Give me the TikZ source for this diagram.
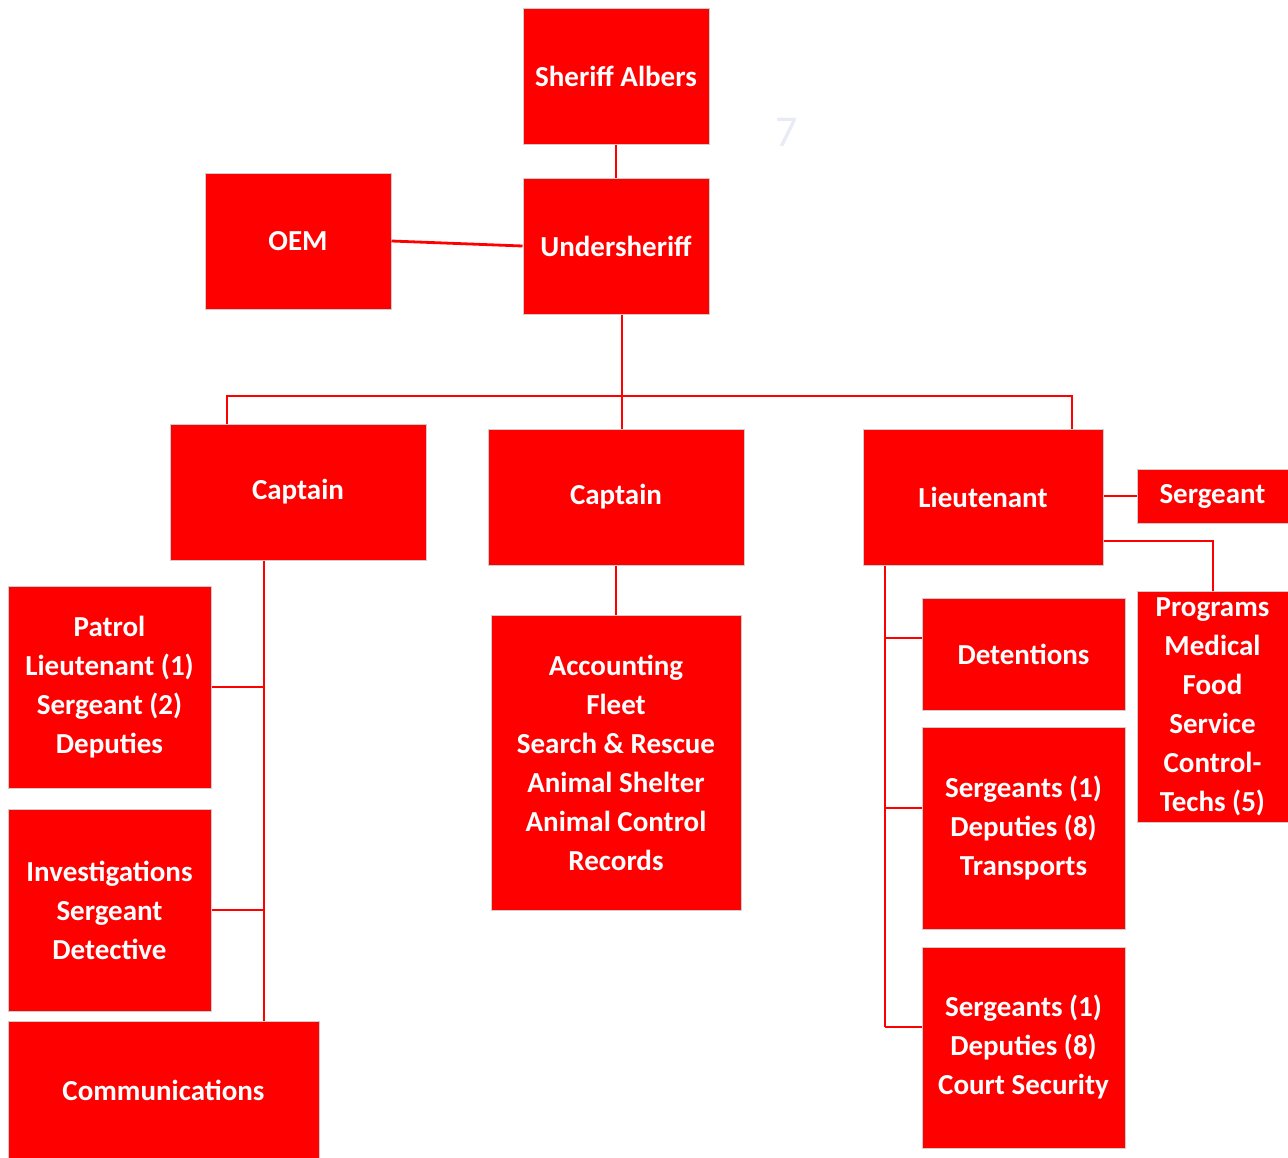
\documentclass[tikz,border=0pt]{standalone}
\usepackage{fontspec}
\setmainfont{Carlito}
\usetikzlibrary{calc}
\definecolor{boxred}{RGB}{255,0,0}
\definecolor{edgegrey}{RGB}{205,205,205}
\definecolor{faint}{RGB}{232,234,244}
\begin{document}
\begin{tikzpicture}[x=1pt,y=-1pt,
  box/.style={draw=edgegrey, line width=1pt, fill=boxred, text=white,
    font=\fontsize{29}{39}\selectfont\bfseries, align=center, inner sep=0pt},
  conn/.style={draw=boxred, line width=2.8pt}]
\useasboundingbox (0,0) rectangle (1288,1157);
% boxes
\node[box, minimum width=186pt, minimum height=136pt] (sh) at (616,76) {Sheriff Albers};
\node[box, minimum width=186pt, minimum height=136pt] (und) at (616,246) {Undersheriff};
\node[box, minimum width=186pt, minimum height=136pt] (oem) at (298,241) {OEM};
\node[box, minimum width=256pt, minimum height=136pt] (capL) at (298,492) {Captain};
\node[box, minimum width=256pt, minimum height=136pt] (capM) at (616,497) {Captain};
\node[box, minimum width=240pt, minimum height=136pt] (lt) at (983,497) {Lieutenant};
\node[box, minimum width=151pt, minimum height=54pt] (sgt) at (1212.5,496) {Sergeant};
\node[box, minimum width=151pt, minimum height=231pt] (prog) at (1212.5,707) {Programs\\Medical\\Food\\Service\\Control-\\Techs (5)};
\node[box, minimum width=203pt, minimum height=202pt] (patrol) at (109.5,687) {Patrol\\Lieutenant (1)\\Sergeant (2)\\Deputies};
\node[box, minimum width=203pt, minimum height=202pt] (inv) at (109.5,910) {Investigations\\Sergeant\\Detective};
\node[box, minimum width=311pt, minimum height=138pt] (comm) at (163.5,1090) {Communications};
\node[box, minimum width=250pt, minimum height=295pt] (acct) at (616,762.5) {Accounting\\Fleet\\Search \& Rescue\\Animal Shelter\\Animal Control\\Records};
\node[box, minimum width=203pt, minimum height=112pt] (det) at (1023.5,654) {Detentions};
\node[box, minimum width=203pt, minimum height=202pt] (trans) at (1023.5,828) {Sergeants (1)\\Deputies (8)\\Transports};
\node[box, minimum width=203pt, minimum height=201pt] (court) at (1023.5,1047.5) {Sergeants (1)\\Deputies (8)\\Court Security};
\node[text=faint, font=\fontsize{44}{44}\selectfont, inner sep=0pt] (seven) at (787,132) {7};
% junction coordinates
\coordinate (bus) at (622,396);
\coordinate (bL) at (227,396);
\coordinate (bR) at (1072,396);
\coordinate (cL) at (264,560);
\coordinate (lL) at (885,565);
\coordinate (dB) at (885,638);
\coordinate (tB) at (885,808);
\coordinate (kB) at (885,1027);
\coordinate (pB) at (1213,541);
% connectors
\draw[conn] (sh.south) -- (und.north);
\draw[conn] (oem.east) -- (und.west);
\draw[conn] (und.south -| bus) -- (bus);
\draw[conn] (capL.north -| bL) -- (bL) -- (bR) -- (lt.north -| bR);
\draw[conn] (bus) -- (capM.north -| bus);
\draw[conn] (capL.south -| cL) -- (comm.north -| cL);
\draw[conn] (patrol.east) -- (patrol.east -| cL);
\draw[conn] (inv.east) -- (inv.east -| cL);
\draw[conn] (capM.south) -- (acct.north);
\draw[conn] (lt.south -| lL) -- (kB);
\draw[conn] (dB) -- (dB -| det.west);
\draw[conn] (tB) -- (tB -| trans.west);
\draw[conn] (kB) -- (kB -| court.west);
\draw[conn] (lt.east |- sgt.west) -- (sgt.west);
\draw[conn] (pB -| lt.east) -- (pB) -- (prog.north -| pB);
\end{tikzpicture}
\end{document}
